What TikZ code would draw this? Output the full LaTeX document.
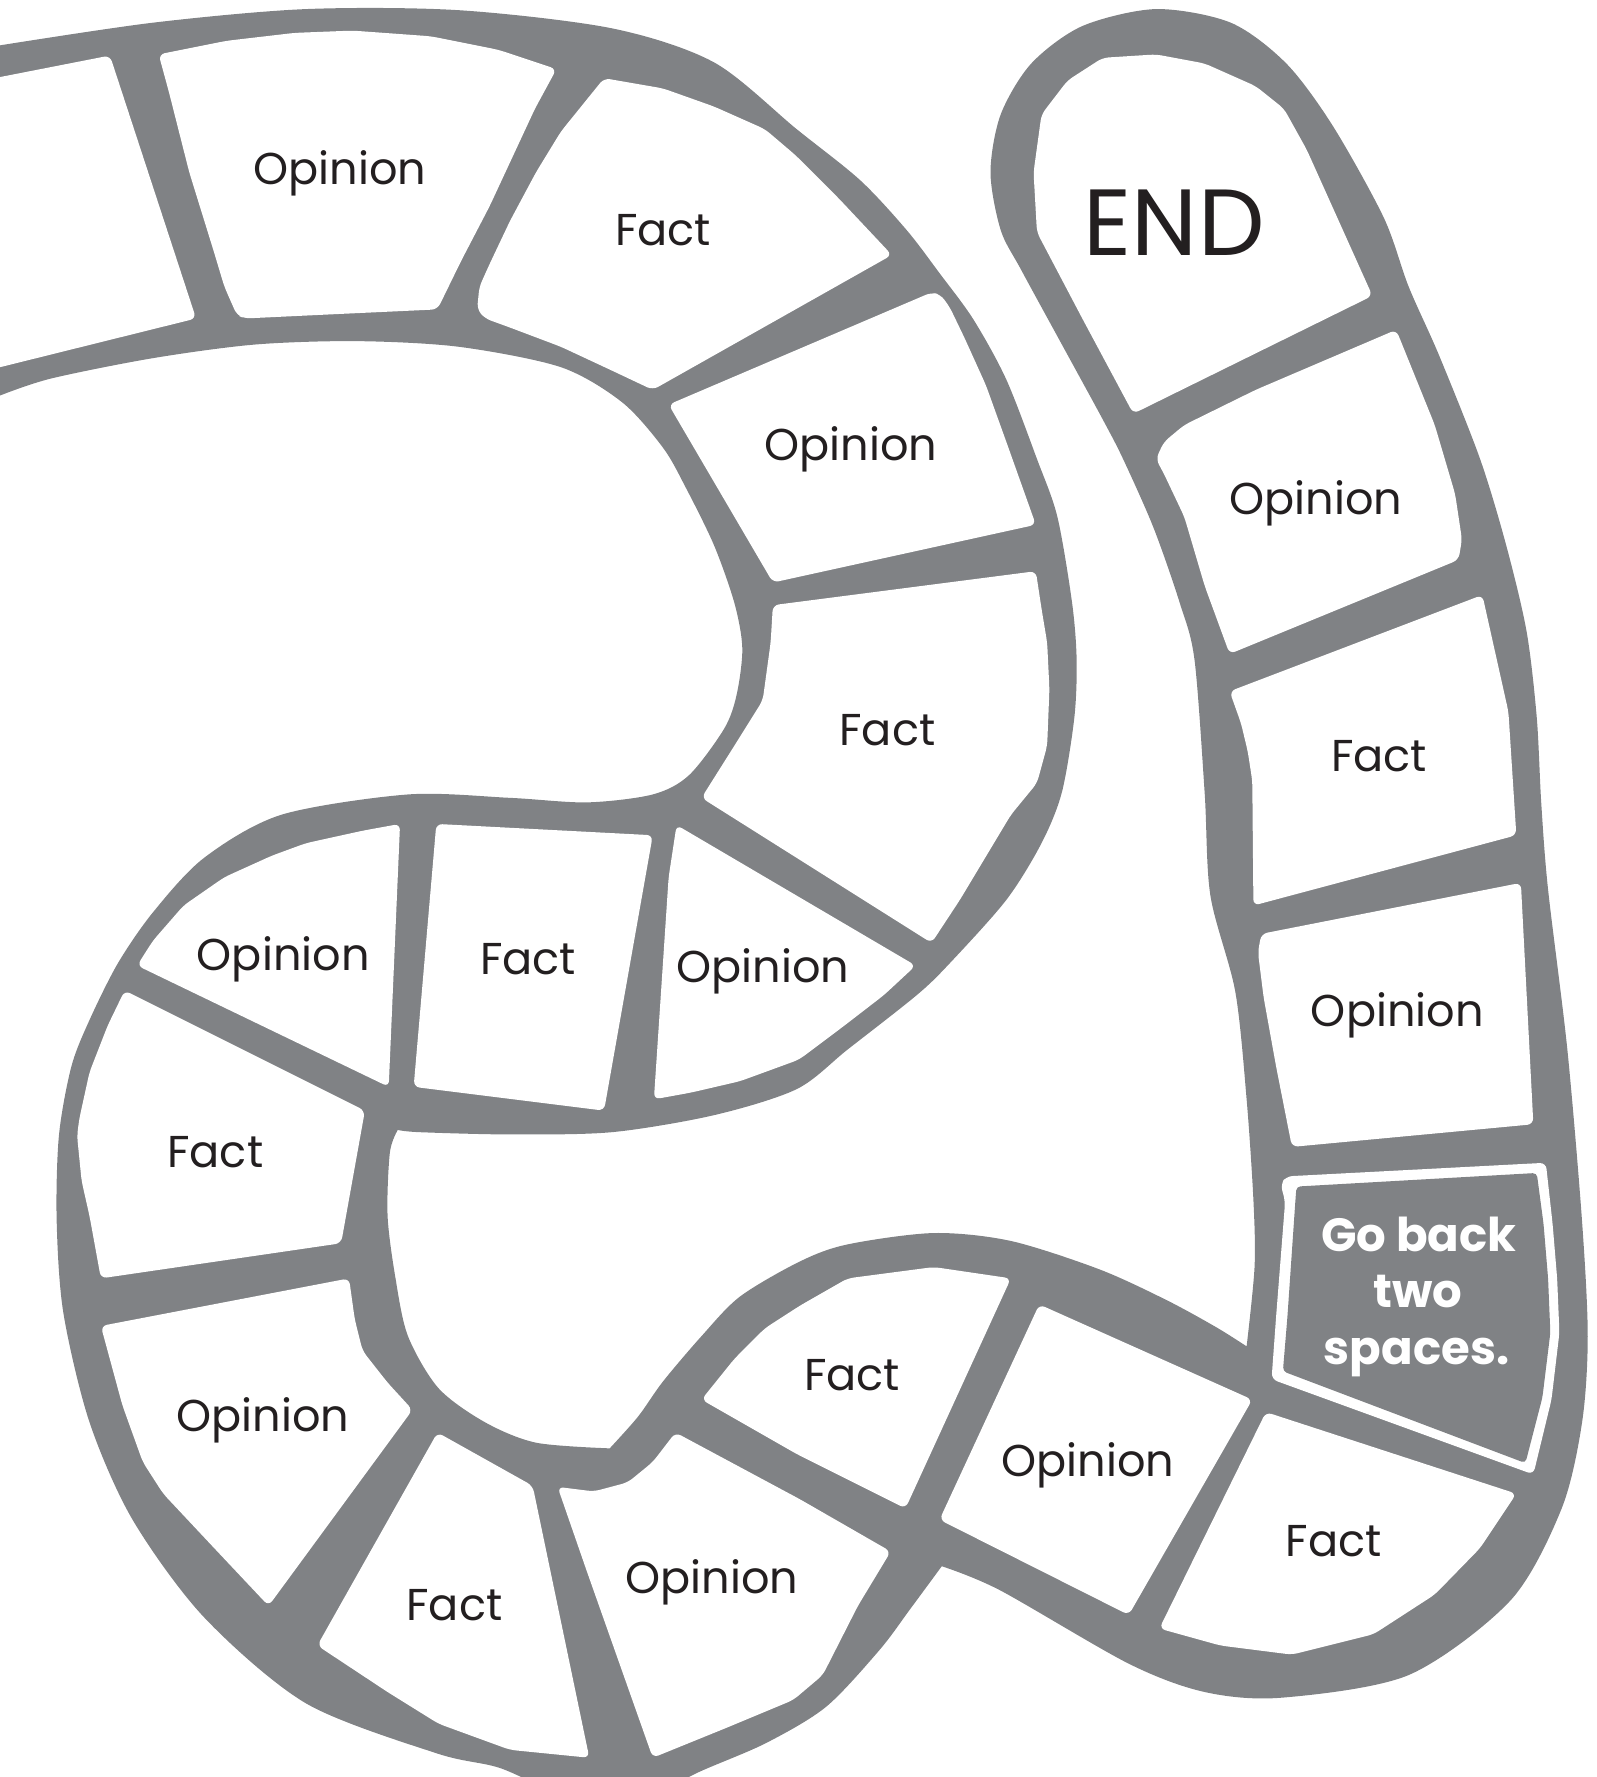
\documentclass[tikz,border=0pt]{standalone}
\usepackage{fontspec}
\setmainfont{Poppins}
\definecolor{trackgray}{RGB}{128,130,133}
\definecolor{ink}{RGB}{35,31,32}

\def\cpA{(-40,76) -- (0,68) -- (97,49) -- (135,165) -- (173,281) -- (0,324) -- (-40,333) -- cycle}
\def\cpB{(140,48) -- (200,36) -- (260,29) -- (311,27) -- (380,32) -- (440,44) -- (491,61) -- (472,96) -- (432,182) -- (407,230) -- (386,273) -- (300,277) -- (216,281) -- (209,278) -- (198,253) -- (189,223) -- (167,152) -- (149,81) -- cycle}
\def\cpC{(533,69) -- (585,78) -- (630,94) -- (675,114) -- (702,137) -- (740,175) -- (787,225) -- (576,344) -- (540,327) -- (495,306) -- (450,289) -- (428,281) -- (421,273) -- (423,253) -- (432,233) -- (450,195) -- (473,152) -- (495,116) -- cycle}
\def\cpD{(590,357) -- (822,258) -- (830,260) -- (838,271) -- (851,298) -- (870,340) -- (888,390) -- (914,463) -- (682,514) -- cycle}
\def\cpE{(682,534) -- (914,504) -- (919,537) -- (924,567) -- (926,608) -- (924,658) -- (915,691) -- (892,719) -- (847,794) -- (822,832) -- (619,704) -- (648,658) -- (673,618) -- (680,567) -- cycle}
\def\cpF{(597,728) -- (808,852) -- (780,878) -- (745,905) -- (705,935) -- (653,954) -- (610,964) -- (577,970) -- (590,774) -- cycle}
\def\cpG{(385,727) -- (576,737) -- (533,980) -- (365,959) -- cycle}
\def\cpH{(353,727) -- (343,959) -- (121,852) -- (135,830) -- (162,799) -- (198,774) -- (240,755) -- (270,744) -- (320,733) -- cycle}
\def\cpI{(110,874) -- (322,980) -- (301,1097) -- (89,1128) -- (79,1073) -- (72,1042) -- (68,1002) -- (70,987) -- (79,946) -- (95,905) -- cycle}
\def\cpJ{(89,1170) -- (308,1128) -- (313,1164) -- (320,1192) -- (342,1220) -- (364,1244) -- (237,1417) -- (189,1366) -- (144,1318) -- (126,1290) -- (108,1240) -- cycle}
\def\cpK{(386,1264) -- (470,1311) -- (520,1551) -- (450,1544) -- (387,1521) -- (342,1493) -- (280,1452) -- cycle}
\def\cpL{(492,1312) -- (524,1316) -- (554,1308) -- (576,1290) -- (596,1264) -- (706,1323) -- (786,1369) -- (757,1417) -- (726,1478) -- (700,1500) -- (640,1525) -- (576,1551) -- (518,1387) -- cycle}
\def\cpM{(619,1235) -- (648,1199) -- (675,1172) -- (706,1152) -- (748,1128) -- (824,1118) -- (892,1128) -- (799,1331) -- (703,1283) -- cycle}
\def\cpN{(917,1151) -- (1105,1235) -- (996,1425) -- (829,1341) -- cycle}
\def\cpO{(1117,1246) -- (1338,1318) -- (1306,1366) -- (1266,1407) -- (1212,1442) -- (1140,1460) -- (1077,1452) -- (1023,1437) -- cycle}
\def\cpP{(1135,1038) -- (1364,1026) -- (1370,1080) -- (1374,1128) -- (1376,1176) -- (1369,1235) -- (1353,1301) -- (1122,1217) -- (1126,1162) -- (1134,1060) -- (1130,1045) -- cycle}
\def\cpPin{(1144,1047) -- (1356,1035) -- (1362,1080) -- (1366,1128) -- (1368,1176) -- (1361,1233) -- (1346,1291) -- (1132,1210) -- (1136,1162) -- (1143,1060) -- cycle}
\def\cpQ{(1113,824) -- (1342,779) -- (1353,992) -- (1140,1012) -- (1126,941) -- (1115,880) -- (1110,840) -- cycle}
\def\cpR{(1085,610) -- (1308,525) -- (1331,628) -- (1338,737) -- (1106,799) -- (1105,689) -- (1101,663) -- (1095,638) -- cycle}
\def\cpS{(1020,405) -- (1027,390) -- (1045,375) -- (1108,344) -- (1232,291) -- (1266,375) -- (1284,436) -- (1290,476) -- (1287,494) -- (1085,577) -- (1063,517) -- (1045,456) -- (1027,418) -- cycle}
\def\cpT{(915,205) -- (912,152) -- (919,101) -- (942,71) -- (973,51) -- (1020,48) -- (1063,56) -- (1108,76) -- (1133,96) -- (1153,132) -- (1211,261) -- (1000,365) -- (955,281) -- cycle}

\begin{document}
\begin{tikzpicture}[x=0.1mm,y=-0.1mm,
  track/.style={fill=trackgray},
  cell/.style={fill=white, rounded corners=1.5pt},
  lbl/.style={font=\fontsize{11.2}{13}\selectfont, text=ink, anchor=base, inner sep=0pt},
  endlbl/.style={font=\fontsize{23.6}{28}\selectfont, text=ink, anchor=base, inner sep=0pt},
  backlbl/.style={font=\fontsize{11.7}{14}\selectfont\bfseries, text=white, anchor=base, inner sep=0pt}]
\useasboundingbox (0,0) rectangle (1409,1568);
\clip (0,0) rectangle (1409,1568);

% gray track: one closed band
\fill[track] (-60,28)
  -- plot[smooth] coordinates {(0,40) (135,20) (270,8) (405,9) (540,25) (630,55) (703,114) (759,159) (800,203) (829,241) (859,282) (888,335) (915,405) (933,456) (946,532) (950,582) (948,633) (937,699) (919,744) (888,794) (838,850) (809,878) (748,926) (703,961) (630,984) (540,999) (450,1001) (370,999) (351,997)}
  -- plot[smooth] coordinates {(351,997) (344,1017) (342,1073) (349,1128) (360,1179) (387,1225) (428,1255) (473,1273) (538,1278)}
  -- plot[smooth] coordinates {(538,1278) (563,1250) (585,1219) (619,1179) (653,1144) (706,1113) (748,1098) (824,1088) (892,1095) (970,1120) (1029,1147) (1073,1171) (1100,1188)}
  -- plot[smooth] coordinates {(1100,1188) (1107,1118) (1106,1059) (1100,970) (1090,875) (1068,790) (1063,700) (1054,582) (1041,532) (1018,466) (991,405) (973,370) (937,304) (901,238) (883,203) (874,152) (883,101) (910,56) (955,23) (1020,8) (1086,20) (1135,56) (1176,111) (1221,192) (1243,253) (1270,314) (1306,405) (1329,481) (1347,557) (1356,633) (1360,709) (1366,785) (1383,926) (1396,1078) (1401,1179) (1396,1255) (1378,1331) (1333,1412) (1243,1478) (1131,1498) (1063,1493) (996,1468) (882,1403) (831,1382)}
  -- plot[smooth] coordinates {(831,1382) (803,1420) (776,1456) (729,1506) (676,1538) (618,1563) (560,1590) (500,1585) (441,1560) (385,1547) (270,1503) (180,1427) (117,1341) (79,1255) (56,1159) (50,1077) (52,1002) (63,941) (79,900) (104,850) (135,805) (180,757) (248,719) (360,701) (450,704) (518,708) (576,701) (608,684) (639,643) (650,613) (655,572) (648,532) (630,481) (605,430) (585,395) (549,355) (495,324) (405,306) (315,301) (225,304) (135,316) (45,334) (0,349)}
  -- (-60,360) -- cycle;

% white cells
\fill[cell] \cpA;
\fill[cell] \cpB;
\fill[cell] \cpC;
\fill[cell] \cpD;
\fill[cell] \cpE;
\fill[cell] \cpF;
\fill[cell] \cpG;
\fill[cell] \cpH;
\fill[cell] \cpI;
\fill[cell] \cpJ;
\fill[cell] \cpK;
\fill[cell] \cpL;
\fill[cell] \cpM;
\fill[cell] \cpN;
\fill[cell] \cpO;
\fill[cell] \cpP;
\fill[cell] \cpQ;
\fill[cell] \cpR;
\fill[cell] \cpS;
\fill[cell] \cpT;
% go back cell: gray with white outline
\fill[track, rounded corners=1pt] \cpPin;

% labels
\node[lbl] (n1) at (300,163) {Opinion};
\node[lbl] (n2) at (585,217) {Fact};
\node[lbl] (n3) at (751,406) {Opinion};
\node[lbl] (n4) at (783,658) {Fact};
\node[lbl] (n5) at (673,867) {Opinion};
\node[lbl] (n6) at (466,860) {Fact};
\node[lbl] (n7) at (250,856) {Opinion};
\node[lbl] (n8) at (190,1030) {Fact};
\node[lbl] (n9) at (232,1263) {Opinion};
\node[lbl] (n10) at (401,1430) {Fact};
\node[lbl] (n11) at (628,1406) {Opinion};
\node[lbl] (n12) at (752,1227) {Fact};
\node[lbl] (n13) at (960,1303) {Opinion};
\node[lbl] (n14) at (1177,1373) {Fact};
\node[lbl] (n16) at (1233,906) {Opinion};
\node[lbl] (n17) at (1217,681) {Fact};
\node[lbl] (n18) at (1161,454) {Opinion};
\node[endlbl] (n19) at (1036,225) {END};
\node[backlbl] (gb1) at (1252,1104) {Go back};
\node[backlbl] (gb2) at (1251,1154) {two};
\node[backlbl] (gb3) at (1250,1204) {spaces.};
\end{tikzpicture}
\end{document}
